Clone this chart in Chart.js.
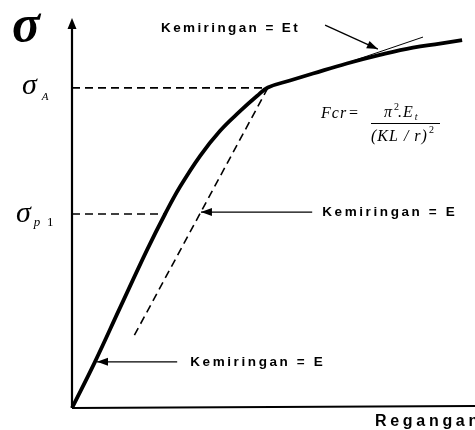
<!DOCTYPE html>
<html>
<head>
<meta charset="utf-8">
<script src="https://cdn.jsdelivr.net/npm/chart.js@4.4.1/dist/chart.umd.min.js"></script>
<style>
  html, body { margin: 0; padding: 0; background: #fff; }
  #wrap { width: 475px; height: 430px; }
</style>
</head>
<body>
<div id="wrap"><canvas id="stressStrain"></canvas></div>
<script>

// stress-strain curve (arbitrary units, 0..100 on both axes)
const strain = [0, 5.7, 11.9, 18.6, 23.1, 26.8, 31.8, 36.7, 41.7, 45.9, 48.6, 54.1, 59.8, 68.2, 76.4, 84.6, 91.3, 96.8];
const stress = [0, 11.9, 25.8, 40.7, 50.0, 57.0, 65.0, 71.4, 76.5, 80.4, 82.6, 84.4, 86.2, 88.8, 91.0, 92.9, 93.9, 94.8];

// stress levels marked on the vertical axis
const sigmaA = 82.5;
const sigmaPl = 50.0;
const strainAtA = 48.6;
const strainAtPl = 23.1;

// unloading line with slope E, from sigma A downwards
const unloadStrain = [48.6, 15.4];
const unloadStress = [82.5, 18.6];

// tangent at the upper part (slope Et)
const tangentStrain = [69.0, 87.1];
const tangentStress = [89.2, 95.6];

// pointer arrows: tail -> head
const arrowTailStrain = [62.8, 59.6, 26.1];
const arrowTailStress = [98.7, 50.5, 11.9];
const arrowHeadStrain = [75.9, 32.0, 6.2];
const arrowHeadStress = [92.5, 50.5, 11.9];
const arrowText = ['Kemiringan = Et', 'Kemiringan = E', 'Kemiringan = E'];

function toPoints( xs, ys ) {
    return xs.map( function( x, i ) { return { x: x, y: ys[ i ] }; } );
}

function lineSet( points, width, dash ) {
    return {
        data: points,
        borderColor: '#000',
        borderWidth: width,
        borderDash: dash || [],
        pointRadius: 0,
        showLine: true,
        fill: false,
        clip: false,
    };
}

let datasets = [];

let curve = lineSet( toPoints( strain, stress ), 3.8 );
curve.tension = 0.4;
curve.borderJoinStyle = 'round';
datasets.push( curve );

datasets.push( lineSet( [ { x: 0, y: sigmaA }, { x: strainAtA, y: sigmaA } ], 1.6, [ 8, 5 ] ) );
datasets.push( lineSet( [ { x: 0, y: sigmaPl }, { x: strainAtPl, y: sigmaPl } ], 1.6, [ 8, 5 ] ) );
datasets.push( lineSet( toPoints( unloadStrain, unloadStress ), 1.6, [ 8, 5 ] ) );
datasets.push( lineSet( toPoints( tangentStrain, tangentStress ), 1 ) );

arrowTailStrain.forEach( function( x, i ) {
    let set = lineSet( [ { x: x, y: arrowTailStress[ i ] }, { x: arrowHeadStrain[ i ], y: arrowHeadStress[ i ] } ], 1.3 );
    set.isArrow = true;
    datasets.push( set );
} );

function arrowHead( ctx, x1, y1, x2, y2, len, half ) {
    let a = Math.atan2( y2 - y1, x2 - x1 );
    ctx.beginPath();
    ctx.moveTo( x2, y2 );
    ctx.lineTo( x2 - len * Math.cos( a ) + half * Math.sin( a ), y2 - len * Math.sin( a ) - half * Math.cos( a ) );
    ctx.lineTo( x2 - len * Math.cos( a ) - half * Math.sin( a ), y2 - len * Math.sin( a ) + half * Math.cos( a ) );
    ctx.closePath();
    ctx.fill();
}

// text followed by a raised or lowered small piece
function textWithScript( ctx, text, font, small, smallFont, x, y, dy, gap ) {
    ctx.font = font;
    ctx.fillText( text, x, y );
    let w = ctx.measureText( text ).width;
    ctx.font = smallFont;
    ctx.fillText( small, x + w + ( gap || 1 ), y + dy );
}

// draws axes, arrow heads and all the text
const decorPlugin = {
    id: 'decor',
    afterDatasetsDraw( chart ) {
        let ctx = chart.ctx;
        let xs = chart.scales.x;
        let ys = chart.scales.y;
        let x0 = xs.getPixelForValue( 0 );
        let y0 = ys.getPixelForValue( 0 );

        ctx.save();
        ctx.fillStyle = '#000';
        ctx.strokeStyle = '#000';

        // axes
        ctx.lineWidth = 2.2;
        ctx.beginPath();
        ctx.moveTo( x0, y0 );
        ctx.lineTo( x0, chart.chartArea.top + 6 );
        ctx.moveTo( x0, y0 );
        ctx.lineTo( chart.width, y0 - 2 );
        ctx.stroke();
        arrowHead( ctx, x0, y0, x0, chart.chartArea.top - 2, 11, 4.5 );

        // arrow heads on pointer lines
        chart.data.datasets.forEach( function( ds ) {
            if ( !ds.isArrow ) return;
            let p = ds.data;
            arrowHead( ctx,
                xs.getPixelForValue( p[ 0 ].x ), ys.getPixelForValue( p[ 0 ].y ),
                xs.getPixelForValue( p[ 1 ].x ), ys.getPixelForValue( p[ 1 ].y ), 11, 4 );
        } );

        // pointer texts
        ctx.font = 'bold 13.5px "Liberation Sans", Arial, sans-serif';
        ctx.textBaseline = 'middle';
        ctx.textAlign = 'left';
        ctx.letterSpacing = '2.4px';
        ctx.fillText( arrowText[ 0 ], 161, 28 );
        ctx.letterSpacing = '2.6px';
        ctx.fillText( arrowText[ 1 ], xs.getPixelForValue( arrowTailStrain[ 1 ] ) + 10, ys.getPixelForValue( arrowTailStress[ 1 ] ) );
        ctx.fillText( arrowText[ 2 ], xs.getPixelForValue( arrowTailStrain[ 2 ] ) + 13, ys.getPixelForValue( arrowTailStress[ 2 ] ) );

        // horizontal axis title
        ctx.font = 'bold 16px "Liberation Sans", Arial, sans-serif';
        ctx.letterSpacing = '3.7px';
        ctx.fillText( 'Regangan', 375, 422 );
        ctx.letterSpacing = '0px';

        // sigma on the vertical axis
        ctx.textBaseline = 'alphabetic';
        ctx.font = 'bold italic 52px "Liberation Serif", "DejaVu Serif", serif';
        ctx.fillText( 'σ', 12, 41 );

        let yA = ys.getPixelForValue( sigmaA );
        textWithScript( ctx, 'σ', 'italic 30px "Liberation Serif", serif',
            'A', 'italic 11px "Liberation Serif", serif', 22, yA + 6, 6, 5 );

        let yP = ys.getPixelForValue( sigmaPl );
        textWithScript( ctx, 'σ', 'italic 30px "Liberation Serif", serif',
            'p', 'italic 13px "Liberation Serif", serif', 16, yP + 8, 4, 3 );
        ctx.font = '13px "Liberation Serif", serif';
        ctx.fillText( '1', 47, yP + 12 );

        // critical stress formula
        ctx.font = 'italic 16px "Liberation Serif", serif';
        ctx.letterSpacing = '1px';
        ctx.fillText( 'Fcr', 321, 118 );
        ctx.font = '16px "Liberation Serif", serif';
        ctx.fillText( '=', 349, 118 );

        ctx.lineWidth = 1;
        ctx.beginPath();
        ctx.moveTo( 371, 123.5 );
        ctx.lineTo( 440, 123.5 );
        ctx.stroke();

        textWithScript( ctx, 'π', 'italic 16px "Liberation Serif", serif',
            '2', '10px "Liberation Serif", serif', 384, 117, -7 );
        textWithScript( ctx, '.E', 'italic 16px "Liberation Serif", serif',
            't', 'italic 10px "Liberation Serif", serif', 398, 117, 3 );
        textWithScript( ctx, '(KL / r)', 'italic 16px "Liberation Serif", serif',
            '2', '10px "Liberation Serif", serif', 371, 141, -8 );

        ctx.restore();
    }
};

let ctx = document.getElementById( 'stressStrain' ).getContext( '2d' );
let stressStrainChart = new Chart( ctx, {
    type: 'scatter',
    data: { datasets: datasets },
    options: {
        responsive: true,
        maintainAspectRatio: false,
        animation: false,
        events: [],
        layout: { padding: { left: 72, top: 20, right: 0, bottom: 22 } },
        plugins: {
            legend: { display: false },
            tooltip: { enabled: false },
        },
        scales: {
            x: { type: 'linear', min: 0, max: 100, display: false },
            y: { type: 'linear', min: 0, max: 100, display: false },
        },
    },
    plugins: [ decorPlugin ],
} );

</script>
</body>
</html>
